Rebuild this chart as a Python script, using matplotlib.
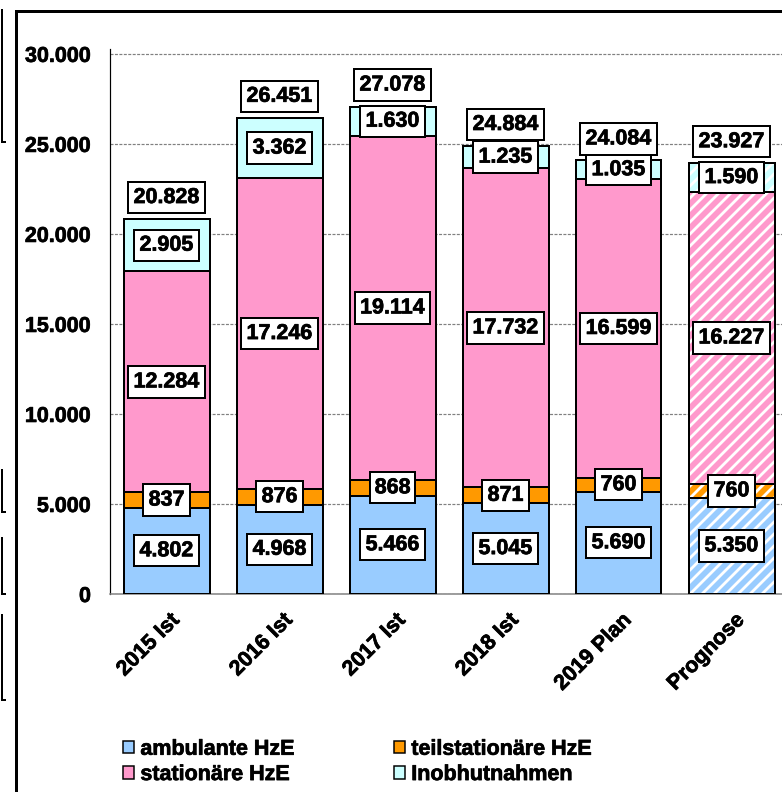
import numpy as np
import matplotlib
matplotlib.use("Agg")
import matplotlib.pyplot as plt
import matplotlib.patheffects as pe
from matplotlib.patches import Patch, Rectangle
from matplotlib.lines import Line2D
from matplotlib.transforms import ScaledTranslation

# Daten (Fallzahlen HzE)
kategorien = ["2015 Ist", "2016 Ist", "2017 Ist", "2018 Ist", "2019 Plan", "Prognose"]
ambulant = [4802, 4968, 5466, 5045, 5690, 5350]
teilstationaer = [837, 876, 868, 871, 760, 760]
stationaer = [12284, 17246, 19114, 17732, 16599, 16227]
inobhut = [2905, 3362, 1630, 1235, 1035, 1590]
gesamt = [20828, 26451, 27078, 24884, 24084, 23927]
prognose = [False, False, False, False, False, True]

serien = ["ambulante HzE", "teilstationäre HzE", "stationäre HzE", "Inobhutnahmen"]
farben = ["#99ccff", "#ff9900", "#ff99cc", "#ccffff"]

plt.rcParams["font.family"] = ["Liberation Sans", "DejaVu Sans"]
plt.rcParams["font.weight"] = "bold"
plt.rcParams["hatch.linewidth"] = 2.8

# etwas fetter wie im Original
fett = [pe.withStroke(linewidth=0.7, foreground="black")]

DPI = 72
fig = plt.figure(figsize=(782 / DPI, 792 / DPI), dpi=DPI)
W, H = 782.0, 792.0

# axes in Pixeln: links 110, unten 594 (von oben), oben 48.5, rechts 788
ax = fig.add_axes([110 / W, (H - 594) / H, 678 / W, 545.5 / H])

x = np.arange(len(kategorien))
breite = 86 / 113
werte = [ambulant, teilstationaer, stationaer, inobhut]

unten = np.zeros(len(kategorien))
for s, (v, c) in enumerate(zip(werte, farben)):
    v = np.array(v, dtype=float)
    for i in range(len(kategorien)):
        if prognose[i]:
            ax.bar(x[i], v[i], breite, bottom=unten[i], color=c, edgecolor="white",
                   hatch="//", linewidth=0, zorder=2)
            ax.bar(x[i], v[i], breite, bottom=unten[i], fill=False, edgecolor="black",
                   linewidth=2, zorder=3)
        else:
            ax.bar(x[i], v[i], breite, bottom=unten[i], color=c, edgecolor="black",
                   linewidth=2, zorder=3)
    # Beschriftung mittig im Segment
    for i in range(len(kategorien)):
        txt = f"{int(v[i]):,}".replace(",", ".")
        ax.text(x[i], unten[i] + v[i] / 2, txt, ha="center", va="center",
                fontsize=21.5, fontweight="bold", zorder=5, path_effects=fett,
                bbox=dict(boxstyle="square,pad=0.24", fc="white", ec="black", lw=2))
    unten += v

# Summen oberhalb
for i in range(len(kategorien)):
    txt = f"{gesamt[i]:,}".replace(",", ".")
    ax.annotate(txt, (x[i], gesamt[i]), xytext=(0, 21.5), textcoords="offset points",
                ha="center", va="center", fontsize=21.5, fontweight="bold", zorder=5,
                path_effects=fett,
                bbox=dict(boxstyle="square,pad=0.24", fc="white", ec="black", lw=2))

ax.set_xlim(-0.5, len(kategorien) - 0.5)
ax.set_ylim(0, 30300)
ax.set_yticks(np.arange(0, 30001, 5000))
ax.set_yticklabels([f"{t:,}".replace(",", ".") for t in range(0, 30001, 5000)],
                   fontsize=21.5, fontweight="bold")
ax.tick_params(axis="y", length=0, pad=19)
ax.yaxis.grid(True, color="#808080", linestyle=(0, (2.5, 1.2)), linewidth=1.2, zorder=0)
ax.set_axisbelow(True)

ax.set_xticks(x)
ax.set_xticklabels(kategorien, rotation=45, ha="right", va="center",
                   rotation_mode="anchor", fontsize=21.5, fontweight="bold")
ax.tick_params(axis="x", length=0, pad=23)
for lab in list(ax.get_xticklabels()) + list(ax.get_yticklabels()):
    lab.set_path_effects(fett)
for lab in ax.get_xticklabels():
    lab.set_transform(lab.get_transform() + ScaledTranslation(10 / DPI, 0, fig.dpi_scale_trans))

ax.spines["top"].set_visible(False)
ax.spines["right"].set_visible(False)
ax.spines["left"].set_linewidth(1.2)
ax.spines["bottom"].set_color("#808080")
ax.spines["bottom"].set_linewidth(1.5)

# Legende
reihenfolge = [0, 2, 1, 3]
handles = [Patch(facecolor=farben[k], edgecolor="black", linewidth=1.5, label=serien[k])
           for k in reihenfolge]
leg = fig.legend(handles=handles, ncol=2, loc="upper left",
                 bbox_to_anchor=(112 / W, 1 - 728 / H), frameon=False,
                 prop={"size": 21.5, "weight": "bold"}, handlelength=0.52, handleheight=0.52,
                 handletextpad=0.3, columnspacing=4.6, labelspacing=0.2, borderpad=0)
for t in leg.get_texts():
    t.set_path_effects(fett)

# Rahmen
fig.patches.append(Rectangle((16 / W, -0.05), 1.1, 1.05 - 11 / H, fill=False,
                             edgecolor="black", linewidth=3, transform=fig.transFigure))

# Reste vom Nachbarbild am linken Rand
for y0, y1 in [(10, 142), (470, 512), (538, 594), (615, 700)]:
    fig.add_artist(Line2D([2 / W, 2 / W], [1 - y0 / H, 1 - y1 / H], color="black",
                          linewidth=2, transform=fig.transFigure))
    fig.add_artist(Line2D([2 / W, 5 / W], [1 - y1 / H, 1 - y1 / H], color="black",
                          linewidth=2, transform=fig.transFigure))

plt.savefig("out.png", dpi=DPI)
plt.close()
